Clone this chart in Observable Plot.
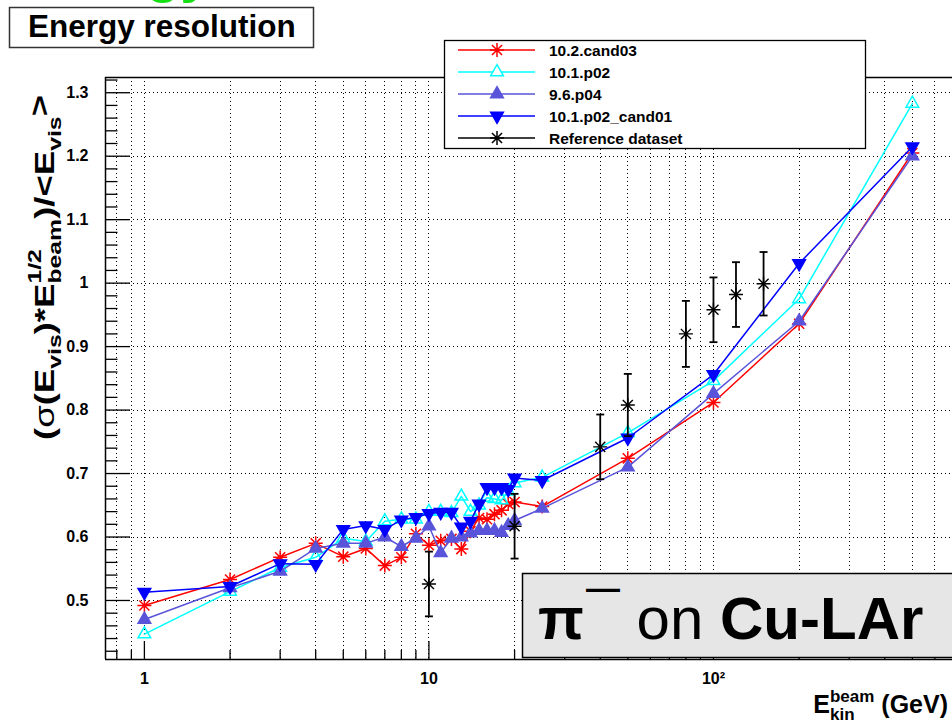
<!DOCTYPE html>
<html>
<head>
<meta charset="utf-8">
<script src="https://cdn.jsdelivr.net/npm/d3@7"></script>
<script src="https://cdn.jsdelivr.net/npm/@observablehq/plot@0.6"></script>
<style>
  html, body { margin: 0; padding: 0; background: #fff; overflow: hidden; }
</style>
</head>
<body>
<div id="chart"></div>
<script>
const FONT = "'Liberation Sans', Arial, Helvetica, sans-serif";

// Beam kinetic energies (GeV) of the simulated points
const energies = [1, 2, 3, 4, 5, 6, 7, 8, 9, 10, 11, 12, 13, 14, 15, 16, 17, 18, 19, 20, 25, 50, 100, 200, 500];

// Resolution sigma(E_vis)*sqrt(E_beam)/<E_vis> for each Geant4 version
const res_10_2_cand03 = [0.492, 0.533, 0.568, 0.590, 0.569, 0.582, 0.555, 0.568, 0.605, 0.587, 0.594, 0.597, 0.581, 0.609, 0.630, 0.628, 0.636, 0.642, 0.652, 0.655, 0.648, 0.724, 0.812, 0.936, 1.205];
const res_10_1_p02 = [0.447, 0.514, 0.552, 0.568, 0.598, 0.593, 0.625, 0.628, 0.628, 0.640, 0.640, 0.638, 0.664, 0.640, 0.650, 0.662, 0.660, 0.658, 0.672, 0.685, 0.694, 0.764, 0.846, 0.975, 1.283];
const res_9_6_p04 = [0.470, 0.520, 0.546, 0.582, 0.590, 0.590, 0.600, 0.585, 0.598, 0.617, 0.575, 0.598, 0.600, 0.606, 0.610, 0.610, 0.610, 0.607, 0.618, 0.626, 0.645, 0.710, 0.826, 0.940, 1.200];
const res_10_1_p02_cand01 = [0.513, 0.522, 0.558, 0.557, 0.612, 0.618, 0.612, 0.627, 0.631, 0.637, 0.639, 0.639, 0.616, 0.625, 0.652, 0.678, 0.678, 0.678, 0.675, 0.693, 0.689, 0.756, 0.856, 1.031, 1.215];

// Test-beam reference measurements with their errors
const refEnergies = [10, 20, 40, 50, 80, 100, 120, 150];
const refValues = [0.526, 0.617, 0.742, 0.808, 0.920, 0.958, 0.982, 0.999];
const refErrors = [0.051, 0.051, 0.051, 0.049, 0.052, 0.051, 0.051, 0.050];

const seriesNames = ["10.2.cand03", "10.1.p02", "9.6.p04", "10.1.p02_cand01"];
const refName = "Reference dataset";
const seriesColors = ["#ff0000", "#00ffff", "#5954d9", "#0000ff"];

// Axis ticks
const xMajor = [1, 10, 100];
const xTickLabels = ["1", "10", "10²"];
const xMinor = [0.8, 0.9, 2, 3, 4, 5, 6, 7, 8, 9, 20, 30, 40, 50, 60, 70, 80, 90, 200, 300, 400, 500, 600];
const yMajor = [0.5, 0.6, 0.7, 0.8, 0.9, 1.0, 1.1, 1.2, 1.3];
const yTickLabels = ["0.5", "0.6", "0.7", "0.8", "0.9", "1", "1.1", "1.2", "1.3"];
const yMinor = d3.range(21, 67).map(k => k / 50).filter(v => Math.abs(v * 10 - Math.round(v * 10)) > 1e-6);

const xDomain = [0.73, 692];
const yDomain = [0.407, 1.324];

// Downward-pointing filled triangle (d3.symbolTriangle flipped)
const triangleDown = {
  draw(ctx, size) {
    const y = -Math.sqrt(size / (Math.sqrt(3) * 3));
    ctx.moveTo(0, -2 * y);
    ctx.lineTo(-Math.sqrt(3) * y, y);
    ctx.lineTo(Math.sqrt(3) * y, y);
    ctx.closePath();
  }
};
// Eight-armed star: a plus sign overlaid with a cross
const star8 = {
  draw(ctx, size) {
    const r = Math.sqrt(size / Math.PI);
    const d = r * 0.72;
    ctx.moveTo(0, -r); ctx.lineTo(0, r);
    ctx.moveTo(-r, 0); ctx.lineTo(r, 0);
    ctx.moveTo(-d, -d); ctx.lineTo(d, d);
    ctx.moveTo(-d, d); ctx.lineTo(d, -d);
  }
};
// Horizontal cap drawn at the ends of error bars
const capSymbol = {
  draw(ctx, size) {
    const w = Math.sqrt(size);
    ctx.moveTo(-w / 2, 0);
    ctx.lineTo(w / 2, 0);
  }
};

const markerStyles = [
  {symbol: star8, r: 7, fill: "none"},
  {symbol: d3.symbolTriangle, r: 4.7, fill: "none"},
  {symbol: d3.symbolTriangle, r: 4.7, fill: "solid"},
  {symbol: triangleDown, r: 4.7, fill: "solid"}
];
const refMarker = {symbol: star8, r: 7, fill: "none"};

const seriesValues = [res_10_2_cand03, res_10_1_p02, res_9_6_p04, res_10_1_p02_cand01];
const seriesRows = seriesValues.map(vals => energies.map((e, i) => ({e, v: vals[i]})));
const refRows = refEnergies.map((e, i) => ({e, v: refValues[i], lo: refValues[i] - refErrors[i], hi: refValues[i] + refErrors[i]}));

const seriesMarks = seriesRows.flatMap((rows, i) => {
  const c = seriesColors[i];
  const m = markerStyles[i];
  return [
    Plot.line(rows, {x: "e", y: "v", stroke: c, strokeWidth: 1.5}),
    Plot.dot(rows, {x: "e", y: "v", symbol: m.symbol, r: m.r, stroke: c, strokeWidth: 1.5,
      fill: m.fill === "solid" ? c : "none"})
  ];
});

const gridStyle = {stroke: "#000", strokeOpacity: 1, strokeDasharray: "1,3", strokeWidth: 1, shapeRendering: "crispEdges"};

const chart = Plot.plot({
  width: 952,
  height: 724,
  marginLeft: 105,
  marginRight: 0,
  marginTop: 77,
  marginBottom: 65,
  style: {fontFamily: FONT, background: "#fff", color: "#000"},
  x: {type: "log", domain: xDomain},
  y: {domain: yDomain},
  marks: [
    // dotted grid
    Plot.gridX([...xMinor, ...xMajor], gridStyle),
    Plot.gridY(yMajor, gridStyle),
    // inward ticks
    Plot.axisX(xMajor, {anchor: "bottom", tickSize: -18, tickFormat: () => "", label: null, strokeWidth: 1.3}),
    Plot.axisX(xMinor, {anchor: "bottom", tickSize: -9, tickFormat: () => "", label: null, strokeWidth: 1.3}),
    Plot.axisY(yMajor, {anchor: "left", tickSize: -25, tickFormat: () => "", label: null, strokeWidth: 1.3}),
    Plot.axisY(yMinor, {anchor: "left", tickSize: -12.5, tickFormat: () => "", label: null, strokeWidth: 1.3}),
    // tick labels
    Plot.axisX(xMajor, {anchor: "bottom", tickSize: 0, tickPadding: 13, label: null,
      tickFormat: d => xTickLabels[xMajor.indexOf(d)], fontSize: 16, fontWeight: "bold"}),
    Plot.axisY(yMajor, {anchor: "left", tickSize: 0, tickPadding: 17, label: null,
      tickFormat: d => yTickLabels[yMajor.indexOf(d)], fontSize: 16, fontWeight: "bold"}),
    // frame (left, top, bottom)
    Plot.ruleX([xDomain[0]], {stroke: "#000", strokeWidth: 1.5}),
    Plot.ruleY([yDomain[0], yDomain[1]], {stroke: "#000", strokeWidth: 1.5}),
    ...seriesMarks,
    // reference dataset with error bars
    Plot.ruleX(refRows, {x: "e", y1: "lo", y2: "hi", stroke: "#000", strokeWidth: 1.8}),
    Plot.dot(refRows, {x: "e", y: "lo", symbol: capSymbol, r: 4.5, stroke: "#000", strokeWidth: 1.8}),
    Plot.dot(refRows, {x: "e", y: "hi", symbol: capSymbol, r: 4.5, stroke: "#000", strokeWidth: 1.8}),
    Plot.dot(refRows, {x: "e", y: "v", symbol: refMarker.symbol, r: refMarker.r, stroke: "#000", strokeWidth: 1.4})
  ]
});

document.getElementById("chart").appendChild(chart);

const svg = d3.select(chart);
const overlay = svg.append("g").attr("text-anchor", "start").attr("font-family", FONT);

// Lay out a run of text pieces with sub/superscripts; pieces flagged `stack` share the x of the previous piece.
function richText(parent, segs) {
  const g = parent.append("g").attr("text-anchor", "start");
  let cx = 0, prevX = 0;
  for (const s of segs) {
    const px = (s.stack ? prevX : cx) + (s.dx || 0);
    const t = g.append("text")
      .attr("x", px).attr("y", s.dy || 0)
      .attr("font-family", s.family || FONT)
      .attr("font-size", s.size)
      .attr("font-weight", s.weight || "bold")
      .attr("fill", s.fill || "#000")
      .style("white-space", "pre")
      .text(s.t);
    const w = t.node().getComputedTextLength();
    cx = s.stack ? Math.max(cx, px + w) : px + w;
    prevX = px;
  }
  return {g, width: cx};
}

// partially visible heading above the panel
overlay.append("text").attr("x", 146).attr("y", -9)
  .attr("font-size", 56).attr("font-weight", "bold")
  .attr("fill", "#14e014").text("gy");

// Title box
overlay.append("rect").attr("x", 9.5).attr("y", 7.5).attr("width", 304).attr("height", 40)
  .attr("fill", "#fff").attr("stroke", "#333").attr("stroke-width", 1.5);
overlay.append("text").attr("x", 28).attr("y", 37)
  .attr("font-size", 31.5).attr("font-weight", "bold")
  .text("Energy resolution");

// Y-axis title, stretched along its run to span the axis title area
{
  const big = 28, small = 19;
  const {g, width} = richText(overlay, [
    {t: "(", size: big},
    {t: "σ", size: big, weight: "normal"},
    {t: "(E", size: big},
    {t: "vis", size: small, dy: 7},
    {t: ")*E", size: big},
    {t: "1/2", size: small, dy: -13},
    {t: "beam", size: small, dy: 7, stack: true},
    {t: ")/<E", size: big},
    {t: "vis", size: small, dy: 7},
    {t: ">", size: big, dy: -5}
  ]);
  const span = 345;
  g.attr("transform", `translate(54,${267.5 + span / 2}) rotate(-90) scale(${span / width},1)`);
}

// X-axis title
{
  const {g, width} = richText(overlay, [
    {t: "E", size: 25},
    {t: "beam", size: 17, dy: -11},
    {t: "kin", size: 17, dy: 7, stack: true},
    {t: "\u00a0(GeV)", size: 25}
  ]);
  g.attr("transform", `translate(${948 - width},713)`);
}

// Legend
{
  const lg = overlay.append("g");
  lg.append("rect").attr("x", 444.5).attr("y", 40.5).attr("width", 421).attr("height", 108)
    .attr("fill", "#fff").attr("stroke", "#000").attr("stroke-width", 1.3);
  const entries = seriesNames.map((name, i) => ({name, color: seriesColors[i], m: markerStyles[i]}))
    .concat([{name: refName, color: "#000", m: refMarker}]);
  entries.forEach((en, i) => {
    const y = 50 + i * 22;
    lg.append("line").attr("x1", 458).attr("x2", 535).attr("y1", y).attr("y2", y)
      .attr("stroke", en.color).attr("stroke-width", 1.5);
    lg.append("path").attr("transform", `translate(497,${y})`)
      .attr("d", d3.symbol(en.m.symbol, en.m.r * en.m.r * Math.PI)())
      .attr("fill", en.m.fill === "solid" ? en.color : (en.m.symbol === d3.symbolTriangle ? "#fff" : "none"))
      .attr("stroke", en.color).attr("stroke-width", 1.5);
    lg.append("text").attr("x", 549).attr("y", y + 5.5)
      .attr("font-size", 15.5).attr("font-weight", "bold")
      .text(en.name);
  });
}

// Beam/target label box
{
  overlay.append("rect").attr("x", 522.5).attr("y", 573.5).attr("width", 440).attr("height", 84)
    .attr("fill", "#e6e6e6").attr("stroke", "#000").attr("stroke-width", 1.5);
  const {g} = richText(overlay, [
    {t: "π", size: 60},
    {t: "—", size: 34, dy: -40, dx: 2},
    {t: "\u00a0on\u00a0", size: 60, weight: "normal"},
    {t: "Cu-LAr", size: 60}
  ]);
  g.attr("transform", "translate(538,639)");
}
</script>
</body>
</html>
